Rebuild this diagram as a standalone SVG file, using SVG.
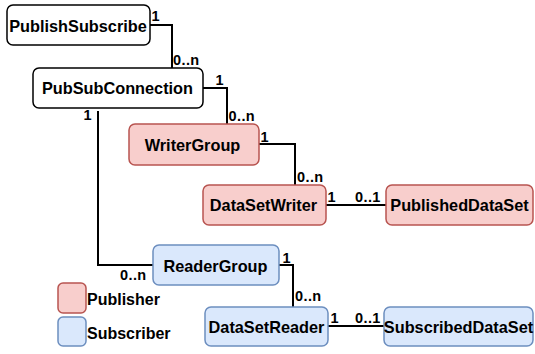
<svg xmlns="http://www.w3.org/2000/svg" width="535" height="354" viewBox="0 0 535 354">
<style>
.box{stroke-width:1.5}
.w{fill:#ffffff;stroke:#000000}
.p{fill:#f8cecc;stroke:#b85450}
.s{fill:#dae8fc;stroke:#6c8ebf}
.t{font-family:"Liberation Sans",Arial,sans-serif;font-weight:bold;font-size:16.3px;fill:#000;text-anchor:middle}
.lt{font-family:"Liberation Sans",Arial,sans-serif;font-weight:bold;font-size:16px;fill:#000}
.l{font-family:"Liberation Sans",Arial,sans-serif;font-weight:bold;font-size:14.5px;letter-spacing:0.4px;fill:#000}
.c{fill:none;stroke:#000;stroke-width:2}
</style>
<g id="connectors">
<polyline class="c" points="150,25 172,25 172,68"/>
<polyline class="c" points="203,88 227,88 227,124"/>
<polyline class="c" points="259,144 295,144 295,185"/>
<polyline class="c" points="326,205 386,205"/>
<polyline class="c" points="98,111 98,265 153,265"/>
<polyline class="c" points="279,265 293,265 293,307"/>
<polyline class="c" points="328,326 384,326"/>
<text class="l" x="151.5" y="20.5">1</text>
<text class="l" x="173" y="65">0..n</text>
<text class="l" x="215.5" y="85">1</text>
<text class="l" x="228.5" y="121">0..n</text>
<text class="l" x="260.5" y="141.5">1</text>
<text class="l" x="297" y="181.5">0..n</text>
<text class="l" x="327.5" y="201.5">1</text>
<text class="l" x="355" y="201.5">0..1</text>
<text class="l" x="83.5" y="120">1</text>
<text class="l" x="120" y="280">0..n</text>
<text class="l" x="282.5" y="262.5">1</text>
<text class="l" x="295" y="300.5">0..n</text>
<text class="l" x="330.5" y="322.5">1</text>
<text class="l" x="355" y="322.5">0..1</text>
</g>
<g id="PublishSubscribe">
<rect class="box w" x="7" y="5" width="143" height="40" rx="6"/>
<text class="t" x="78" y="31.5">PublishSubscribe</text>
</g>
<g id="PubSubConnection">
<rect class="box w" x="33" y="68" width="170" height="40" rx="6"/>
<text class="t" x="117.5" y="93.5">PubSubConnection</text>
</g>
<g id="WriterGroup">
<rect class="box p" x="129" y="124" width="130" height="41" rx="6"/>
<text class="t" x="192.5" y="150.5">WriterGroup</text>
</g>
<g id="DataSetWriter">
<rect class="box p" x="203" y="185" width="123" height="40" rx="6"/>
<text class="t" x="263.5" y="211">DataSetWriter</text>
</g>
<g id="PublishedDataSet">
<rect class="box p" x="386" y="185" width="147" height="40" rx="6"/>
<text class="t" x="459.5" y="211">PublishedDataSet</text>
</g>
<g id="ReaderGroup">
<rect class="box s" x="153" y="245" width="126" height="40" rx="6"/>
<text class="t" x="215.5" y="271.5">ReaderGroup</text>
</g>
<g id="DataSetReader">
<rect class="box s" x="205" y="307" width="123" height="39" rx="6"/>
<text class="t" x="266.5" y="333">DataSetReader</text>
</g>
<g id="SubscribedDataSet">
<rect class="box s" x="384" y="307" width="149" height="39" rx="6"/>
<text class="t" x="458.5" y="333">SubscribedDataSet</text>
</g>
<g id="legend-publisher">
<rect class="box p" x="58" y="283" width="28" height="30" rx="5"/>
<text class="lt" x="87" y="305">Publisher</text>
</g>
<g id="legend-subscriber">
<rect class="box s" x="58" y="317" width="28" height="29" rx="5"/>
<text class="lt" x="87" y="338.5">Subscriber</text>
</g>
</svg>
